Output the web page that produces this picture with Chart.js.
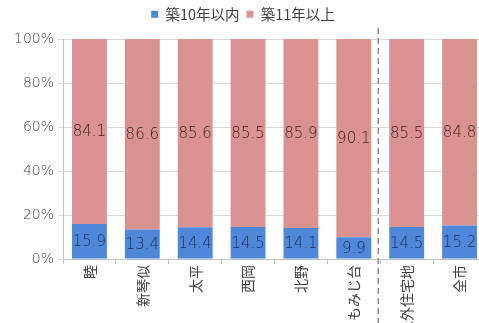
<!DOCTYPE html>
<html lang="ja">
<head>
<meta charset="UTF-8">
<title>築年数別割合</title>
<script src="https://cdn.jsdelivr.net/npm/chart.js"></script>
<style>
    html, body { margin: 0; padding: 0; background: #fff; overflow: hidden; }
    #wrap { width: 490px; height: 323px; }
</style>
</head>
<body>
<div id="wrap"><canvas id="chart"></canvas></div>
<script>
const areas = ['睦', '新琴似', '太平', '西岡', '北野', 'もみじ台', '以外住宅地', '全市'];
const within10 = [15.9, 13.4, 14.4, 14.5, 14.1, 9.9, 14.5, 15.2];
const over11 = [84.1, 86.6, 85.6, 85.5, 85.9, 90.1, 85.5, 84.8];
const yTicks = [0, 20, 40, 60, 80, 100];

const FONT = '"Noto Sans CJK JP", "Noto Sans", sans-serif';
const NUM_FONT = '"DejaVu Sans", "Noto Sans CJK JP", sans-serif';

// value labels in the middle of each segment
const valueLabels = {
    id: 'valueLabels',
    afterDatasetsDraw(chart) {
        const ctx = chart.ctx;
        ctx.save();
        ctx.font = '200 15px ' + NUM_FONT;
        ctx.textAlign = 'center';
        ctx.textBaseline = 'middle';
        chart.data.datasets.forEach((ds, i) => {
            const meta = chart.getDatasetMeta(i);
            ctx.fillStyle = i === 0 ? '#1c2d55' : '#3d1c1c';
            meta.data.forEach((bar, j) => {
                const y = (bar.y + bar.base) / 2;
                ctx.fillText(ds.data[j].toFixed(1), bar.x, y + 1);
            });
        });
        ctx.restore();
    }
};

// dashed separator before the last two groups
const separator = {
    id: 'separator',
    afterDraw(chart) {
        const x = chart.scales.x;
        const px = (x.getPixelForValue(5) + x.getPixelForValue(6)) / 2 - 2;
        const ctx = chart.ctx;
        ctx.save();
        ctx.strokeStyle = '#8c8c8c';
        ctx.lineWidth = 1.5;
        ctx.setLineDash([6, 4]);
        ctx.beginPath();
        ctx.moveTo(px, 28);
        ctx.lineTo(px, chart.height);
        ctx.stroke();
        ctx.restore();
    }
};

// fixed legend height so the plot starts at the right place
const legendHeight = {
    id: 'legendHeight',
    beforeInit(chart) {
        const fit = chart.legend.fit;
        chart.legend.fit = function () {
            fit.bind(chart.legend)();
            this.height = 39;
        };
    }
};

new Chart(document.getElementById('chart'), {
    type: 'bar',
    data: {
        labels: areas,
        datasets: [{
            label: '築10年以内',
            data: within10,
            backgroundColor: '#4f88d8',
            categoryPercentage: 1,
            barPercentage: 0.66
        }, {
            label: '築11年以上',
            data: over11,
            backgroundColor: '#da9391',
            categoryPercentage: 1,
            barPercentage: 0.66
        }]
    },
    options: {
        responsive: true,
        maintainAspectRatio: false,
        animation: false,
        layout: { padding: { left: 0, right: 4, top: 0, bottom: 0 } },
        plugins: {
            tooltip: { enabled: false },
            legend: {
                position: 'top',
                labels: {
                    font: { family: FONT, size: 14.5 },
                    color: '#404040',
                    boxWidth: 7,
                    boxHeight: 7,
                    padding: 7
                }
            }
        },
        scales: {
            x: {
                stacked: true,
                afterFit(scale) { scale.height = 64; },
                grid: {
                    offset: true,
                    drawOnChartArea: false,
                    tickLength: 5,
                    color: '#bfbfbf'
                },
                border: { color: '#bfbfbf' },
                ticks: {
                    minRotation: 90,
                    maxRotation: 90,
                    autoSkip: false,
                    padding: 1,
                    color: '#404040',
                    font: { family: FONT, size: 14 }
                }
            },
            y: {
                stacked: true,
                min: 0,
                max: 100,
                afterFit(scale) { scale.width = 63; },
                afterBuildTicks(scale) {
                    scale.ticks = yTicks.map(v => ({ value: v }));
                },
                grid: {
                    color: '#d9d9d9',
                    tickLength: 5
                },
                border: { color: '#bfbfbf' },
                ticks: {
                    padding: 4,
                    color: '#404040',
                    font: { family: NUM_FONT, size: 14, weight: 200 },
                    callback: v => v + '%'
                }
            }
        }
    },
    plugins: [legendHeight, valueLabels, separator]
});
</script>
</body>
</html>
